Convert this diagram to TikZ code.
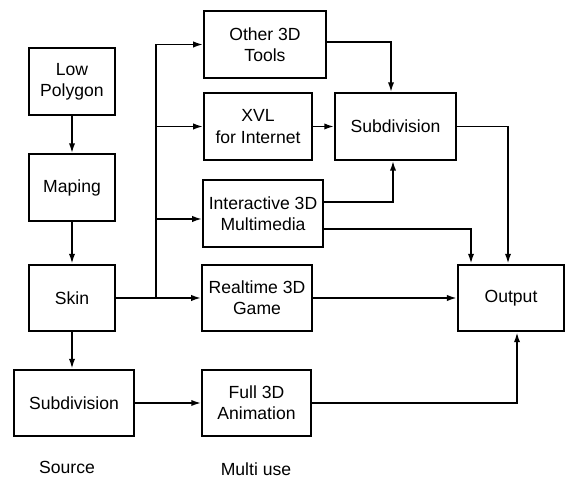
\documentclass[tikz,border=0pt]{standalone}
\usepackage{fontspec}
\setmainfont{Liberation Sans}
\usetikzlibrary{arrows.meta,calc}
\tikzset{
	caja/.style={draw, line width=1.4pt, align=center, inner sep=0pt, minimum height=1.67cm},
	flecha/.style={-{Latex[length=7pt,width=4.5pt]}, line width=1.2pt},
	linea/.style={line width=1.2pt}
}
\begin{document}
\begin{tikzpicture}[x=0.025cm,y=-0.025cm, font=\fontsize{12.5}{15}\selectfont]
		\useasboundingbox (0,0) rectangle (566,477);
		%%% FUENTE
		\node[caja, minimum width=2.15cm] at (72,81.5) (lowpoly) {Low\\Polygon};
		\node[caja, minimum width=2.15cm] at (72,187.5) (maping) {Maping};
		\node[caja, minimum width=2.15cm] at (72,298) (skin) {Skin};
		\node[caja, minimum width=3.02cm] at (74,403) (subl) {Subdivision};
		%%% MULTI USO
		\node[caja, minimum width=3.05cm] at (265,44.5) (other) {Other 3D\\Tools};
		\node[caja, minimum width=2.7cm] at (258,126.5) (xvl) {XVL\\for Internet};
		\node[caja, minimum width=3.0cm] at (263,213.5) (inter) {Interactive 3D\\Multimedia};
		\node[caja, minimum width=2.75cm] at (257,298) (rt) {Realtime 3D\\Game};
		\node[caja, minimum width=2.72cm] at (256.5,403) (full) {Full 3D\\Animation};
		%%% SALIDA
		\node[caja, minimum width=3.02cm] at (395.5,126.5) (subr) {Subdivision};
		\node[caja, minimum width=2.66cm] at (511,298) (output) {Output};
		%%% textos
		\node at (67,467) (source) {Source};
		\node at (256,469) (multi) {Multi use};
		%%% FLECHAS fuente
		\draw[flecha] (lowpoly) -- (maping);
		\draw[flecha] (maping) -- (skin);
		\draw[flecha] (skin.south) -- (skin.south |- subl.north);
		%bus
		\coordinate (bus) at (156,298);
		\draw[flecha] (skin.east) -- (rt.west);
		\draw[flecha] (bus) |- (other.west);
		\draw[flecha] (bus) |- (xvl.west);
		\draw[flecha] (bus) |- ($(inter.west)+(0,5.5)$);
		\draw[flecha] (subl.east) -- (full.west);
		%%% hacia subdivision
		\draw[flecha] ($(other.east)+(0,-2.5)$) -| ($(subr.north)+(-4.5,0)$);
		\draw[flecha] (xvl.east) -- (subr.west);
		\draw[flecha] ($(inter.east)+(0,-11.5)$) -| ($(subr.south)+(-2.5,0)$);
		%%% hacia output
		\draw[flecha] ($(inter.east)+(0,15.5)$) -| ($(output.north)+(-40,0)$);
		\draw[flecha] (subr.east) -| ($(output.north)+(-3,0)$);
		\draw[flecha] (rt.east) -- (output.west);
		\draw[flecha] (full.east) -| ($(output.south)+(6,0)$);
\end{tikzpicture}
\end{document}
